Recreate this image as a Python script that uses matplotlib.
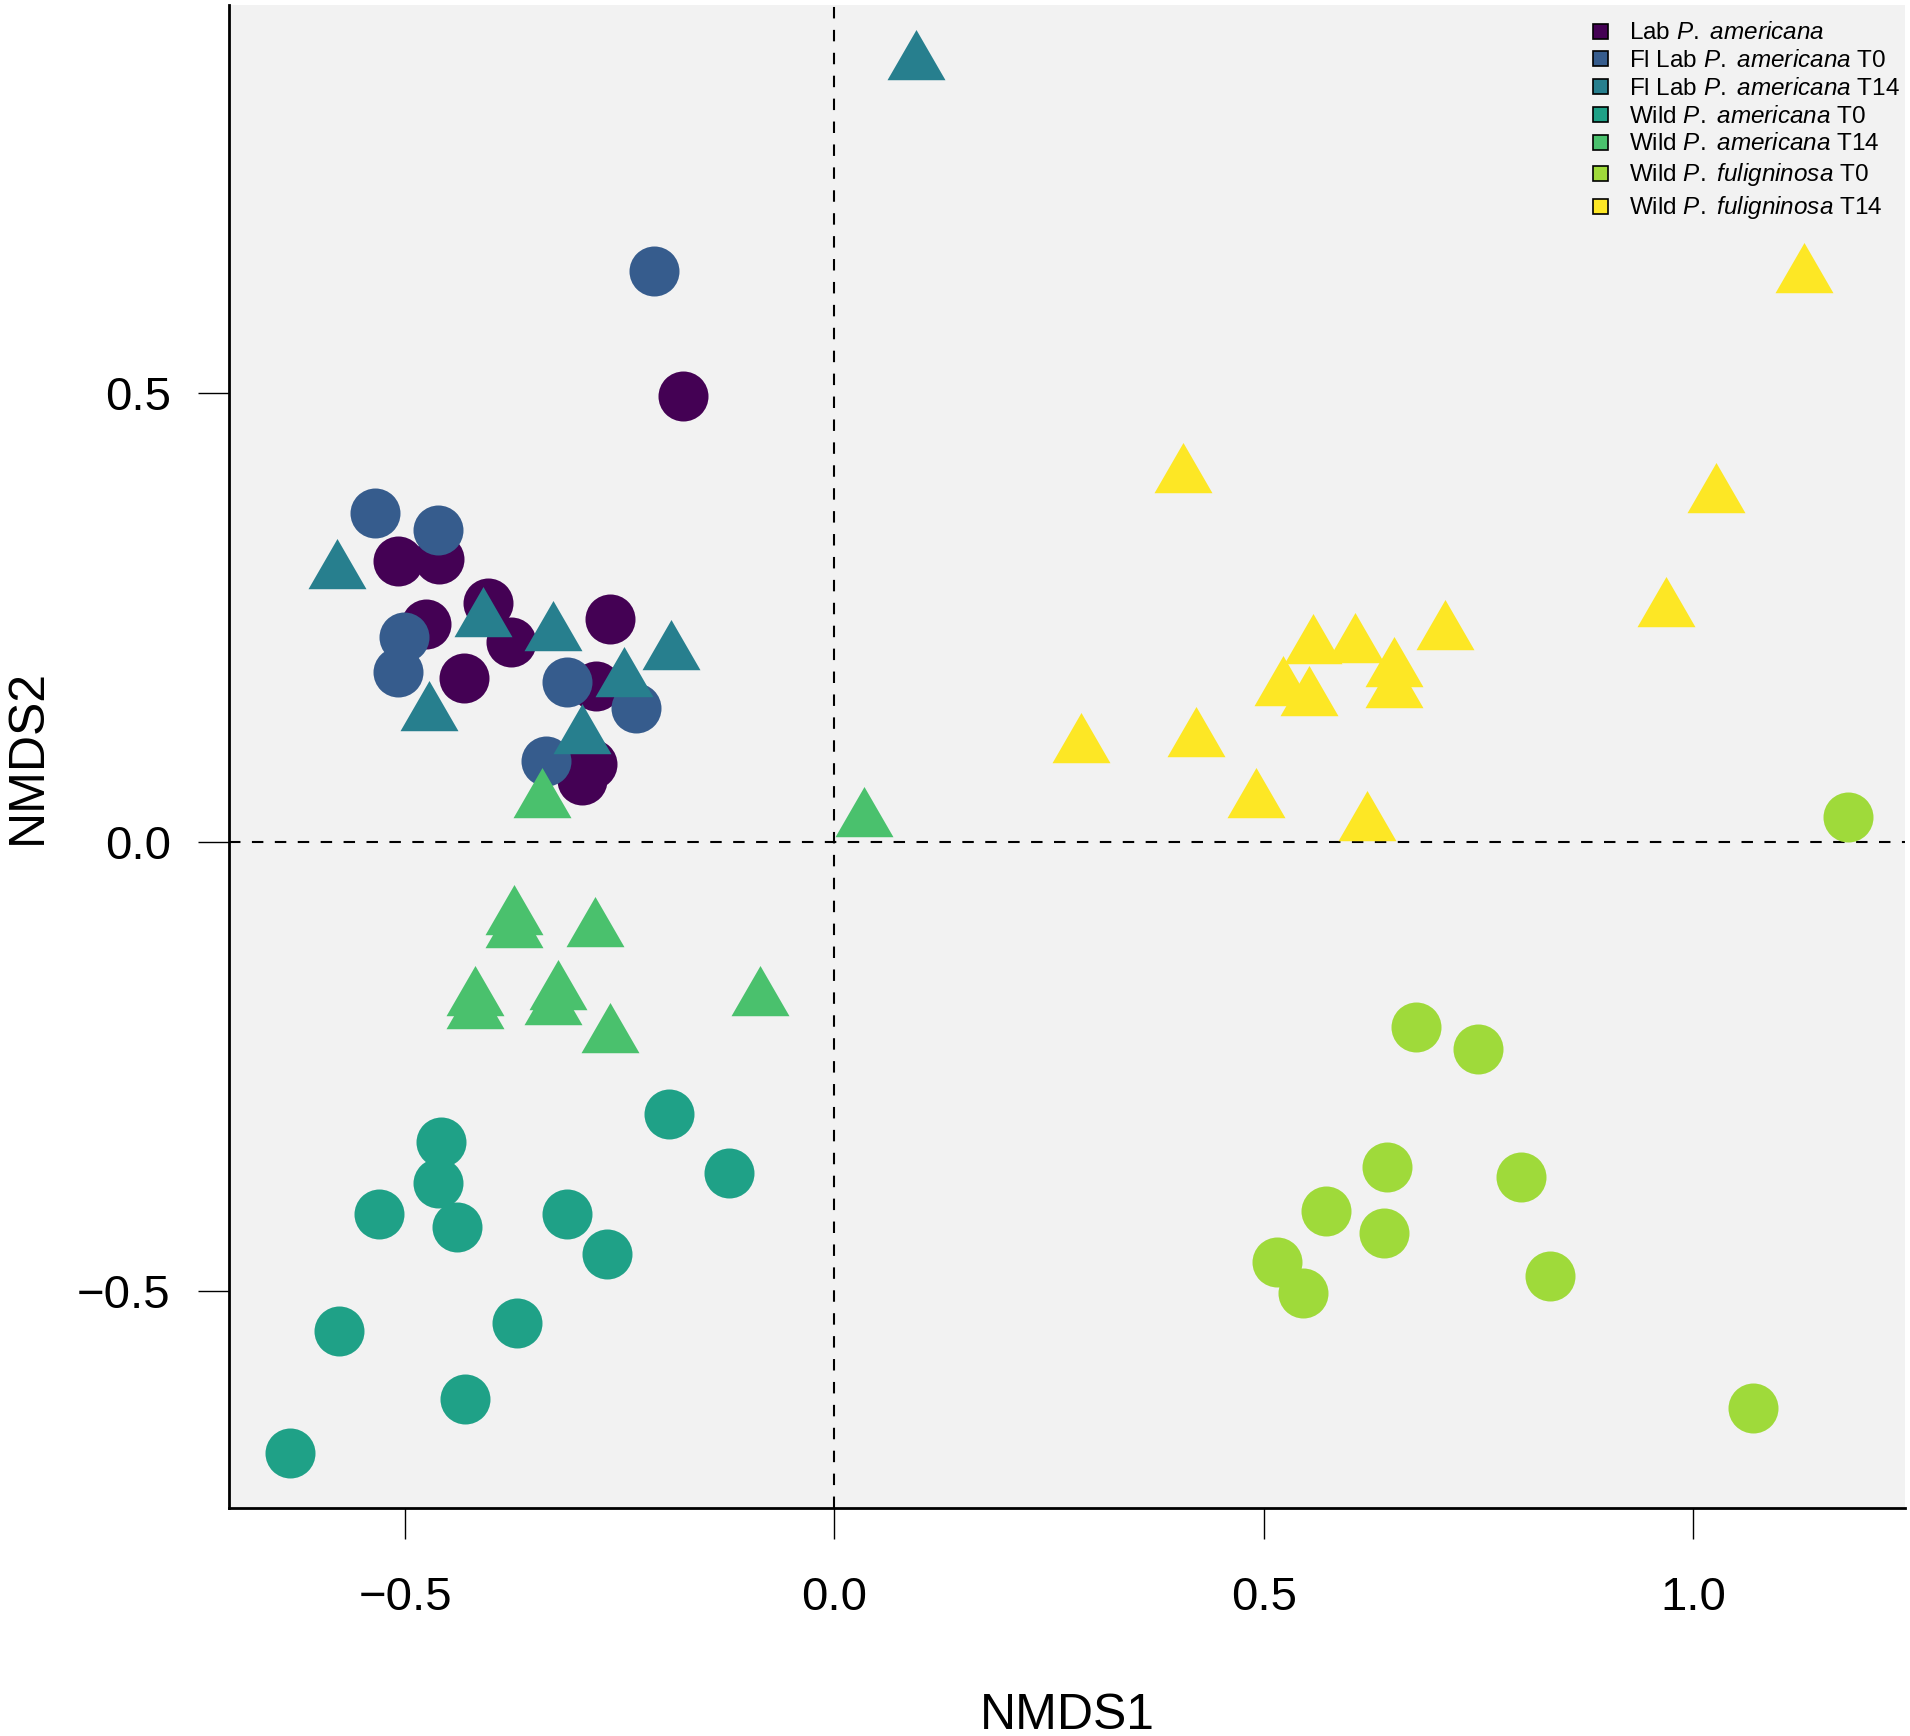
"""
NMDS ordination of cockroach microbiomes, redrawn from the published figure
"""

import matplotlib
matplotlib.use('Agg')
import matplotlib.pyplot as plt
from matplotlib.lines import Line2D
from matplotlib.path import Path

plt.rcParams['font.family'] = 'Liberation Sans'
plt.rcParams['mathtext.fontset'] = 'custom'
plt.rcParams['mathtext.rm'] = 'Liberation Sans'
plt.rcParams['mathtext.it'] = 'Liberation Sans:italic'

# group labels (species name in italics)
labels = [r'Lab $\mathit{P.\ americana}$',
          r'Fl Lab $\mathit{P.\ americana}$ T0',
          r'Fl Lab $\mathit{P.\ americana}$ T14',
          r'Wild $\mathit{P.\ americana}$ T0',
          r'Wild $\mathit{P.\ americana}$ T14',
          r'Wild $\mathit{P.\ fuligninosa}$ T0',
          r'Wild $\mathit{P.\ fuligninosa}$ T14']

# NMDS scores
lab_x = [-0.176, -0.508, -0.460, -0.475, -0.403, -0.377, -0.431, -0.261, -0.277, -0.282, -0.294]
lab_y = [0.497, 0.313, 0.315, 0.243, 0.266, 0.223, 0.183, 0.248, 0.174, 0.087, 0.069]

fl_t0_x = [-0.210, -0.535, -0.462, -0.501, -0.508, -0.311, -0.231, -0.336]
fl_t0_y = [0.636, 0.366, 0.347, 0.228, 0.189, 0.178, 0.149, 0.090]

fl_t14_x = [0.095, -0.579, -0.409, -0.328, -0.190, -0.245, -0.472, -0.294]
fl_t14_y = [0.867, 0.301, 0.247, 0.232, 0.210, 0.180, 0.142, 0.117]

wa_t0_x = [-0.193, -0.123, -0.458, -0.462, -0.530, -0.440, -0.311, -0.265, -0.577, -0.370, -0.430, -0.634]
wa_t0_y = [-0.303, -0.369, -0.334, -0.380, -0.414, -0.429, -0.415, -0.459, -0.545, -0.536, -0.620, -0.681]

wa_t14_x = [0.034, -0.340, -0.373, -0.373, -0.279, -0.418, -0.418, -0.322, -0.328, -0.261, -0.087]
wa_t14_y = [0.024, 0.045, -0.085, -0.099, -0.098, -0.175, -0.189, -0.168, -0.185, -0.216, -0.175]

wf_t0_x = [1.180, 0.678, 0.750, 0.644, 0.800, 0.573, 0.640, 0.515, 0.546, 0.834, 1.070]
wf_t0_y = [0.028, -0.206, -0.231, -0.362, -0.373, -0.411, -0.436, -0.468, -0.503, -0.484, -0.631]

wf_t14_x = [1.129, 0.406, 1.027, 0.969, 0.287, 0.421, 0.491, 0.620, 0.557, 0.606, 0.711, 0.522, 0.553, 0.652, 0.652]
wf_t14_y = [0.630, 0.408, 0.385, 0.258, 0.107, 0.113, 0.045, 0.020, 0.217, 0.218, 0.233, 0.170, 0.159, 0.191, 0.168]

xs = [lab_x, fl_t0_x, fl_t14_x, wa_t0_x, wa_t14_x, wf_t0_x, wf_t14_x]
ys = [lab_y, fl_t0_y, fl_t14_y, wa_t0_y, wa_t14_y, wf_t0_y, wf_t14_y]

# axis ticks
xticks = [-0.5, 0.0, 0.5, 1.0]
xtick_labels = ['\u22120.5', '0.0', '0.5', '1.0']
yticks = [-0.5, 0.0, 0.5]
ytick_labels = ['\u22120.5', '0.0', '0.5']

# viridis(8) without the 2nd colour
colors = ['#440154', '#365C8D', '#277F8E', '#1FA187', '#4AC16D', '#9FDA3A', '#FDE725']
is_tri = [False, False, True, False, True, False, True]

# R-style solid triangle, centred on its centroid
tri = Path([(-1, -0.577), (1, -0.577), (0, 1.155), (-1, -0.577)],
           [Path.MOVETO, Path.LINETO, Path.LINETO, Path.CLOSEPOLY])

fig = plt.figure(figsize=(19.10, 17.36), dpi=100)
ax = fig.add_axes([0.1199, 0.1313, 0.8775, 0.8658])
ax.set_facecolor('#F2F2F2')

ax.axhline(0, color='k', lw=1.5, dashes=(5.5, 5.5), zorder=1)
ax.axvline(0, color='k', lw=1.5, dashes=(5.5, 5.5), zorder=1)

for x, y, c, t in zip(xs, ys, colors, is_tri):
    if t:
        ax.scatter(x, y, s=2325, marker=tri, color=c, linewidths=0, zorder=2)
    else:
        ax.scatter(x, y, s=1296, marker='o', color=c, linewidths=0, zorder=2)

ax.set_xlim(-0.705, 1.247)
ax.set_ylim(-0.742, 0.932)
ax.set_xticks(xticks)
ax.set_xticklabels(xtick_labels)
ax.set_yticks(yticks)
ax.set_yticklabels(ytick_labels)

for side in ['top', 'right']:
    ax.spines[side].set_visible(False)
for side in ['left', 'bottom']:
    ax.spines[side].set_linewidth(2)

ax.tick_params(axis='both', direction='out', length=22, width=1, labelsize=34)
ax.tick_params(axis='x', pad=27)
ax.tick_params(axis='y', pad=20)

ax.set_xlabel('NMDS1', fontsize=36)
ax.set_ylabel('NMDS2', fontsize=36)
ax.xaxis.set_label_coords(0.5, -0.123)
ax.yaxis.set_label_coords(-0.106, 0.5)

handles = [Line2D([], [], ls='none', marker='s', markersize=10.8, markerfacecolor=c,
                  markeredgecolor='k', markeredgewidth=1.2) for c in colors]
fig.legend(handles, labels, loc='upper left', bbox_to_anchor=(1593 / 1910, 1 - 22 / 1736),
           frameon=False, fontsize=17.5, borderpad=0, borderaxespad=0,
           handlelength=0.6, handletextpad=0.9, labelspacing=0.24)

plt.savefig('out.png', dpi=100)
